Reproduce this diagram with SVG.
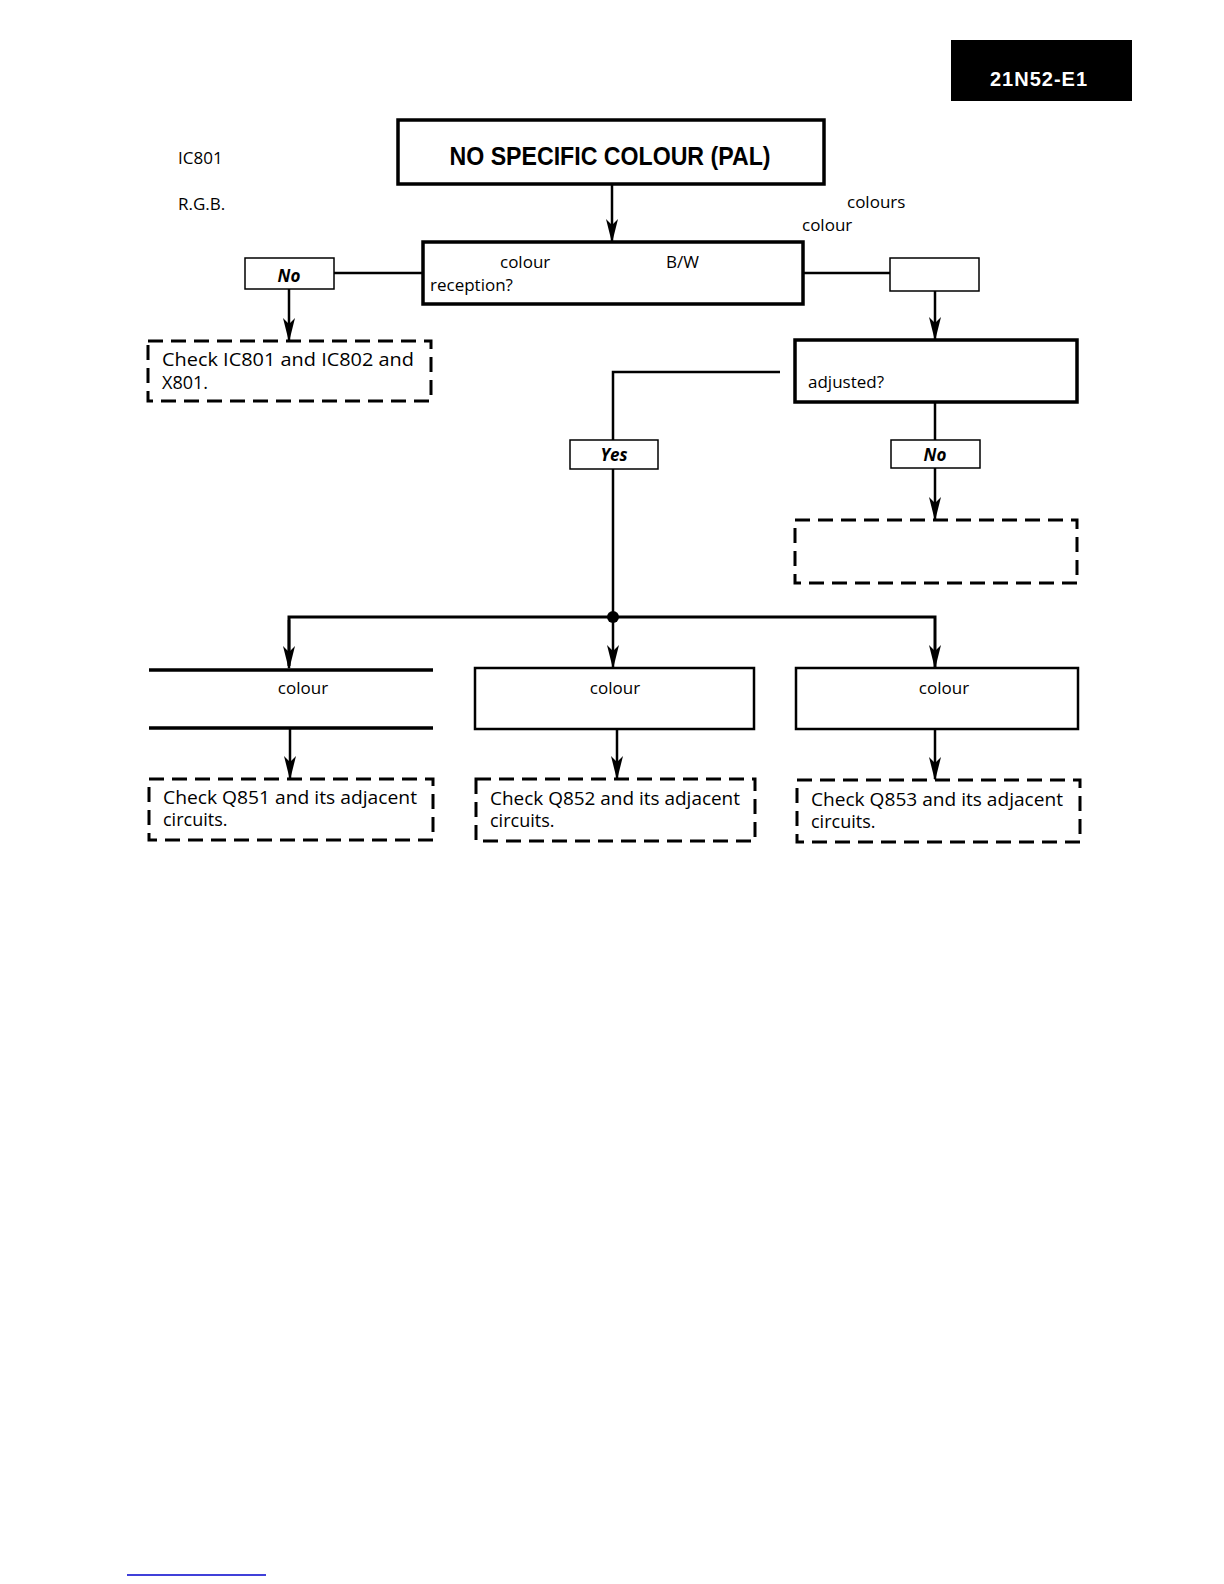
<svg xmlns="http://www.w3.org/2000/svg" width="1224" height="1584" viewBox="0 0 1224 1584">
<style>
text{font-family:"Open Sans","Liberation Sans",sans-serif;fill:#000;font-size:17px}
.box{fill:#fff;stroke:#000;stroke-width:2.5}
.thick{fill:#fff;stroke:#000;stroke-width:3.5}
.lbl{fill:#fff;stroke:#000;stroke-width:1.5}
.dash{fill:#fff;stroke:#000;stroke-width:3;stroke-dasharray:15 8}
.ln{fill:none;stroke:#000;stroke-width:2.5}
.yn{font-weight:bold;font-style:italic;font-size:17px;text-anchor:middle}
.ck{font-size:18px}
</style>
<defs>
<marker id="ah" markerWidth="24" markerHeight="12" refX="22" refY="6" orient="auto" markerUnits="userSpaceOnUse" viewBox="0 0 24 12">
<path d="M0,0 L24,6 L0,12 L6,6 Z" fill="#000"/>
</marker>
</defs>
<rect width="1224" height="1584" fill="#fff"/>
<g id="header">
<rect x="951" y="40" width="181" height="61" fill="#000"/>
<text x="990" y="86" style="fill:#fff;font-weight:bold;font-size:20px;font-family:'Liberation Sans',sans-serif" textLength="97" lengthAdjust="spacing">21N52-E1</text>
</g>
<g id="side-notes">
<text x="178" y="164">IC801</text>
<text x="178" y="210">R.G.B.</text>
<text x="847" y="208">colours</text>
<text x="802" y="231">colour</text>
</g>
<g id="connectors">
<line class="ln" x1="612" y1="184" x2="612" y2="241" marker-end="url(#ah)"/>
<line class="ln" x1="334" y1="273" x2="423" y2="273"/>
<line class="ln" x1="289" y1="289" x2="289" y2="340" marker-end="url(#ah)"/>
<line class="ln" x1="803" y1="273" x2="890" y2="273"/>
<line class="ln" x1="935" y1="291" x2="935" y2="339" marker-end="url(#ah)"/>
<polyline class="ln" points="780,372 613,372 613,440"/>
<line class="ln" x1="935" y1="402" x2="935" y2="440"/>
<line class="ln" x1="935" y1="468" x2="935" y2="519" marker-end="url(#ah)"/>
<line class="ln" x1="613" y1="469" x2="613" y2="617"/>
<polyline class="ln" points="289,666 289,617 935,617 935,667" style="stroke-width:3" marker-end="url(#ah)"/>
<line class="ln" x1="289" y1="620" x2="289" y2="668" marker-end="url(#ah)"/>
<line class="ln" x1="613" y1="617" x2="613" y2="667" marker-end="url(#ah)"/>
<circle cx="613" cy="617" r="6" fill="#000"/>
<line class="ln" x1="290" y1="729" x2="290" y2="778" marker-end="url(#ah)"/>
<line class="ln" x1="617" y1="729" x2="617" y2="778" marker-end="url(#ah)"/>
<line class="ln" x1="935" y1="729" x2="935" y2="779" marker-end="url(#ah)"/>
</g>
<g id="start">
<rect class="thick" x="398" y="120" width="426" height="64"/>
<text x="610" y="165" text-anchor="middle" style="font-family:'Liberation Sans',sans-serif;font-weight:bold;font-size:25px" textLength="321" lengthAdjust="spacingAndGlyphs">NO SPECIFIC COLOUR (PAL)</text>
</g>
<g id="q-colour-bw">
<rect class="thick" x="423" y="242" width="380" height="62"/>
<text x="500" y="268">colour</text>
<text x="666" y="268">B/W</text>
<text x="430" y="291">reception?</text>
</g>
<g id="label-no-1">
<rect class="lbl" x="245" y="258" width="89" height="31"/>
<text class="yn" x="289" y="282">No</text>
</g>
<g id="check-ic801">
<rect class="dash" x="148" y="341" width="283" height="60"/>
<text class="ck" x="162" y="366" textLength="252" lengthAdjust="spacingAndGlyphs">Check IC801 and IC802 and</text>
<text class="ck" x="162" y="389">X801.</text>
</g>
<g id="label-yes-1">
<rect class="lbl" x="890" y="258" width="89" height="33"/>
</g>
<g id="q-adjusted">
<rect class="thick" x="795" y="340" width="282" height="62"/>
<text x="808" y="388">adjusted?</text>
</g>
<g id="label-yes-2">
<rect class="lbl" x="570" y="440" width="88" height="29"/>
<text class="yn" x="614" y="461">Yes</text>
</g>
<g id="label-no-2">
<rect class="lbl" x="891" y="440" width="89" height="28"/>
<text class="yn" x="935" y="461">No</text>
</g>
<g id="readjust">
<rect class="dash" x="795" y="520" width="282" height="63"/>
</g>
<g id="colour-1">
<line class="ln" x1="149" y1="670" x2="433" y2="670" style="stroke-width:3.5"/>
<line class="ln" x1="149" y1="728" x2="433" y2="728" style="stroke-width:3.5"/>
<text x="303" y="694" text-anchor="middle">colour</text>
</g>
<g id="colour-2">
<rect class="box" x="475" y="668" width="279" height="61"/>
<text x="615" y="694" text-anchor="middle">colour</text>
</g>
<g id="colour-3">
<rect class="box" x="796" y="668" width="282" height="61"/>
<text x="944" y="694" text-anchor="middle">colour</text>
</g>
<g id="check-q851">
<rect class="dash" x="149" y="779" width="284" height="61"/>
<text class="ck" x="163" y="804" textLength="254" lengthAdjust="spacingAndGlyphs">Check Q851 and its adjacent</text>
<text class="ck" x="163" y="826">circuits.</text>
</g>
<g id="check-q852">
<rect class="dash" x="476" y="779" width="279" height="62"/>
<text class="ck" x="490" y="805" textLength="250" lengthAdjust="spacingAndGlyphs">Check Q852 and its adjacent</text>
<text class="ck" x="490" y="827">circuits.</text>
</g>
<g id="check-q853">
<rect class="dash" x="797" y="780" width="283" height="62"/>
<text class="ck" x="811" y="806" textLength="252" lengthAdjust="spacingAndGlyphs">Check Q853 and its adjacent</text>
<text class="ck" x="811" y="828">circuits.</text>
</g>
<line x1="127" y1="1575" x2="266" y2="1575" stroke="#0000cc" stroke-width="1.5"/>
</svg>
